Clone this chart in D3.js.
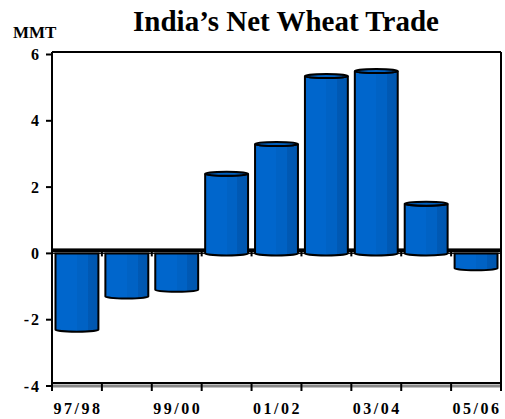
<!DOCTYPE html>
<html><head><meta charset="utf-8">
<script src="https://cdn.jsdelivr.net/npm/d3@7"></script>
<style>body{margin:0;background:#fff}svg{display:block}text{font-family:"Liberation Serif","Times New Roman",serif;font-weight:bold;fill:#000}</style>
</head><body>
<script>
const categories = ["97/98","98/99","99/00","00/01","01/02","02/03","03/04","04/05","05/06"];
const values = [-2.3, -1.3, -1.1, 2.4, 3.3, 5.35, 5.5, 1.5, -0.45];
const yTicks = [-4, -2, 0, 2, 4, 6];
const xLabelShown = ["97/98","99/00","01/02","03/04","05/06"];

(function(){
const W = 505, H = 419;
const svg = d3.select("body").append("svg").attr("width", W).attr("height", H);
const pLeft = 52, pRight = 501, pTop = 52;
const x = d3.scaleBand().domain(categories).range([pLeft, pRight]).paddingInner(0.14).paddingOuter(0.07);
const xb = d3.scaleBand().domain(categories).range([pLeft, pRight]);
const y = d3.scaleLinear().domain([-4, 6]).range([386, 54.5]);

const defs = svg.append("defs");
const g = defs.append("linearGradient").attr("id","bg").attr("x1","0").attr("x2","1").attr("y1","0").attr("y2","0");
[[0,"#0066cc"],[0.5,"#0066cc"],[0.5,"#0062c4"],[0.75,"#0062c4"],[0.75,"#0059b4"],[1,"#0056ae"]].forEach(([o,c])=>g.append("stop").attr("offset",o).attr("stop-color",c));

// frame
svg.append("line").attr("x1",pLeft).attr("x2",pRight).attr("y1",pTop).attr("y2",pTop).attr("stroke","#000").attr("stroke-width",2);
svg.append("line").attr("x1",pRight).attr("x2",pRight).attr("y1",pTop).attr("y2",y(-4)).attr("stroke","#000").attr("stroke-width",2);

// zero plane
const y0 = y(0);
svg.append("rect").attr("x",pLeft).attr("y",y0-5).attr("width",pRight-pLeft).attr("height",4).attr("fill","#000");
svg.append("line").attr("x1",pLeft).attr("x2",pRight).attr("y1",y0).attr("y2",y0).attr("stroke","#000").attr("stroke-width",1);
svg.selectAll(".zt").data(categories.slice(1)).enter().append("line")
  .attr("x1",d=>xb(d)).attr("x2",d=>xb(d)).attr("y1",y0-2).attr("y2",y0+3).attr("stroke","#000").attr("stroke-width",2);

// bars
const ry = 2;
const bars = svg.selectAll(".bar").data(categories).enter().append("g");
bars.each(function(d,i){
  const v = values[i];
  const gg = d3.select(this);
  const bx = x(d), bw = x.bandwidth();
  if (v >= 0) {
    const yt = y(v);
    gg.append("path").attr("d",`M${bx},${y0} L${bx},${yt} A${bw/2},${ry} 0 0 0 ${bx+bw},${yt} L${bx+bw},${y0} A${bw/2},${ry} 0 0 1 ${bx},${y0} Z`)
      .attr("fill","url(#bg)").attr("stroke","#000").attr("stroke-width",2);
    gg.append("ellipse").attr("cx",bx+bw/2).attr("cy",yt).attr("rx",bw/2).attr("ry",ry)
      .attr("fill","#0060c0").attr("stroke","#000").attr("stroke-width",2);
  } else {
    const yv = y(v);
    gg.append("path").attr("d",`M${bx},${y0} L${bx},${yv} A${bw/2},${ry} 0 0 0 ${bx+bw},${yv} L${bx+bw},${y0} Z`)
      .attr("fill","url(#bg)").attr("stroke","#000").attr("stroke-width",2);
  }
});

// bottom axis
const yb = y(-4);
svg.append("line").attr("x1",pLeft).attr("x2",pRight).attr("y1",yb-3).attr("y2",yb-3).attr("stroke","#000").attr("stroke-width",2);
svg.append("line").attr("x1",pLeft).attr("x2",pRight).attr("y1",yb).attr("y2",yb).attr("stroke","#888").attr("stroke-width",3);
const xTickPos = categories.map(d=>xb(d)).concat([pRight]);
svg.selectAll(".xt").data(xTickPos).enter().append("line")
  .attr("x1",d=>d).attr("x2",d=>d).attr("y1",yb-3).attr("y2",yb+5).attr("stroke","#000").attr("stroke-width",2);
svg.selectAll(".xl").data(xLabelShown).enter().append("text")
  .attr("x",d=>xb(d)+xb.bandwidth()/2+1).attr("y",414).attr("text-anchor","middle")
  .attr("font-size",16).attr("letter-spacing",2.5).text(d=>d);

// left axis
svg.append("line").attr("x1",pLeft).attr("x2",pLeft).attr("y1",pTop).attr("y2",yb+5).attr("stroke","#000").attr("stroke-width",2);
svg.selectAll(".yt").data(yTicks).enter().append("line")
  .attr("x1",pLeft-6).attr("x2",pLeft).attr("y1",d=>y(d)).attr("y2",d=>y(d)).attr("stroke","#000").attr("stroke-width",2);
svg.selectAll(".yl").data(yTicks).enter().append("text")
  .attr("x",41).attr("y",d=>y(d)+5.5).attr("text-anchor","end").attr("font-size",16).attr("letter-spacing",2)
  .text(d=>d);

// titles
svg.append("text").attr("x",286).attr("y",31).attr("text-anchor","middle").attr("font-size",29).text("India\u2019s Net Wheat Trade");
svg.append("text").attr("x",13).attr("y",38).attr("font-size",17).text("MMT");
})();
</script>
</body></html>
